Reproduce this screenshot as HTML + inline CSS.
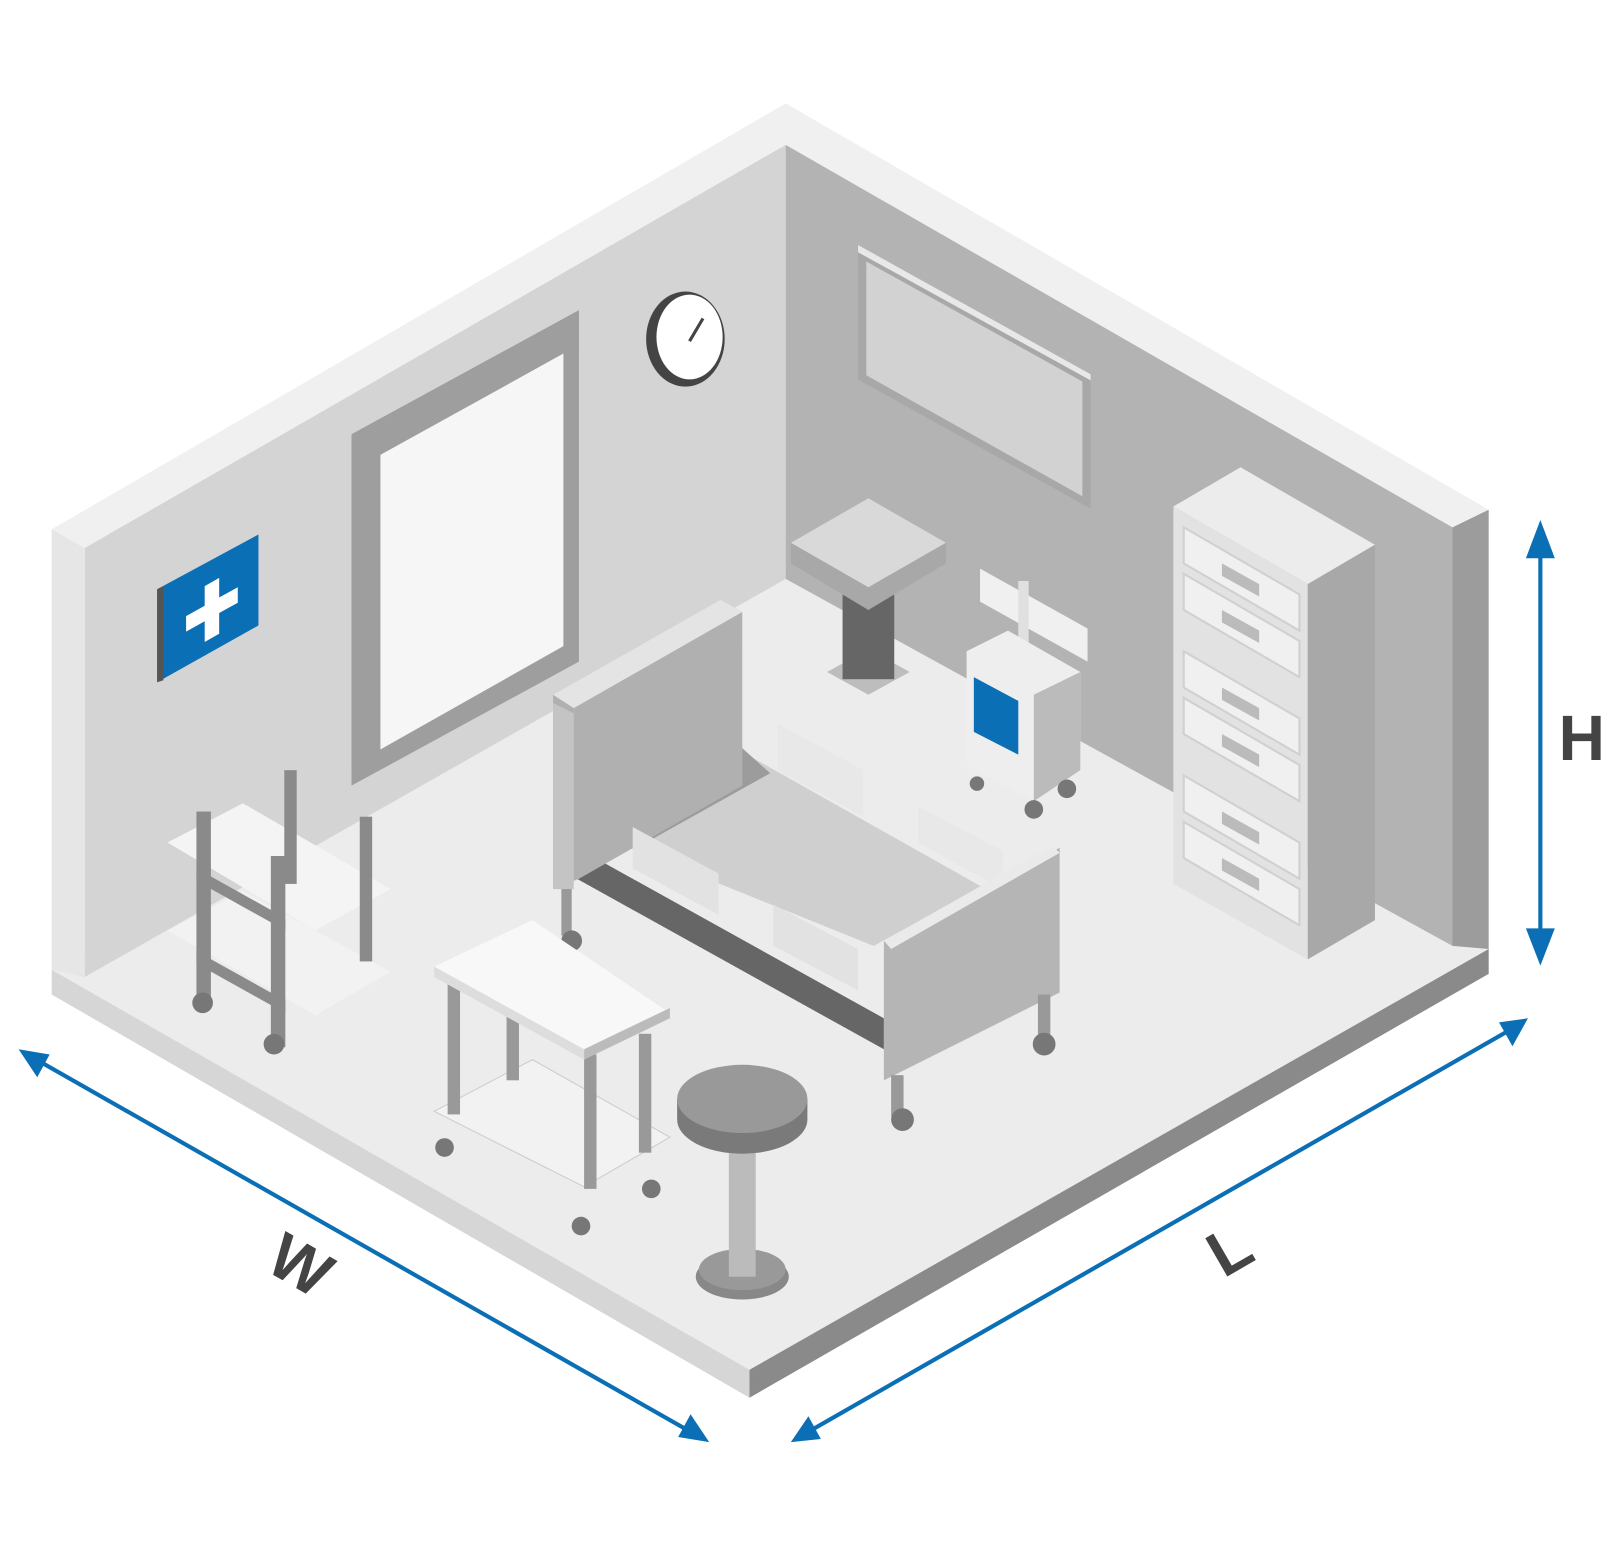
<!DOCTYPE html>
<html><head><meta charset="utf-8"><style>html,body{margin:0;padding:0;background:#fff}svg{display:block}</style></head><body>
<svg width="1621" height="1560" viewBox="0 0 1568 1509" preserveAspectRatio="none" xmlns="http://www.w3.org/2000/svg">
<defs><marker id="a" markerWidth="10" markerHeight="10" refX="8" refY="5" orient="auto" markerUnits="userSpaceOnUse"><path d="M0,0 L0,0"/></marker></defs>
<!-- floor & slab -->
<polygon points="50,938 760,555 1440,918 725,1325" fill="#ececec"/>
<polygon points="50,938 725,1325 725,1352 50,962" fill="#d6d6d6"/>
<polygon points="725,1325 1440,918 1440,942 725,1352" fill="#8a8a8a"/>
<!-- walls -->
<polygon points="82,530 760,140 760,560 82,945" fill="#d4d4d4"/>
<polygon points="760,140 1405,510 1405,915 760,560" fill="#b3b3b3"/>
<polygon points="50,512 82,530 82,945 50,938" fill="#e6e6e6"/>
<polygon points="1405,510 1440,493 1440,918 1405,915" fill="#9c9c9c"/>
<polygon points="50,512 760,100 1440,493 1405,510 760,140 82,530" fill="#f0f0f0"/>
<!-- sign -->
<polygon points="152,570 250,517 250,605 152,660" fill="#0a6fb5"/>
<polygon points="152,570 158,567 158,658 152,660" fill="#555"/>
<path d="M198,567 L212,559 L212,578 L230,568 L230,583 L212,593 L212,613 L198,621 L198,601 L180,611 L180,596 L198,586 Z" fill="#fff"/>
<!-- door -->
<polygon points="340,420 560,300 560,640 340,760" fill="#9e9e9e"/>
<polygon points="368,440 545,342 545,625 368,725" fill="#f6f6f6"/>
<!-- clock -->
<ellipse cx="663" cy="328" rx="38" ry="46" fill="#444"/>
<ellipse cx="667" cy="326" rx="32" ry="41" fill="#fff"/>
<line x1="667" y1="330" x2="680" y2="308" stroke="#444" stroke-width="3"/>
<!-- picture -->
<polygon points="830,237 1055,362 1055,492 830,367" fill="#a8a8a8"/>
<polygon points="838,253 1047,369 1047,480 838,363" fill="#d2d2d2"/>
<polygon points="830,237 1055,362 1055,368 830,244" fill="#e8e8e8"/>
<!-- cabinet -->
<polygon points="1135,490 1200,452 1330,527 1265,565" fill="#ececec"/>
<polygon points="1135,490 1265,565 1265,928 1135,855" fill="#e2e2e2"/>
<polygon points="1265,565 1330,527 1330,890 1265,928" fill="#a8a8a8"/>
<g fill="#f0f0f0" stroke="#d0d0d0" stroke-width="2">
<polygon points="1145,510 1257,575 1257,610 1145,545"/><polygon points="1145,555 1257,620 1257,655 1145,590"/>
<polygon points="1145,630 1257,695 1257,730 1145,665"/><polygon points="1145,675 1257,740 1257,775 1145,710"/>
<polygon points="1145,750 1257,815 1257,850 1145,785"/><polygon points="1145,795 1257,860 1257,895 1145,830"/>
</g>
<g fill="#bbb"><polygon points="1182,545 1218,565 1218,577 1182,557"/><polygon points="1182,590 1218,610 1218,622 1182,602"/><polygon points="1182,665 1218,685 1218,697 1182,677"/><polygon points="1182,710 1218,730 1218,742 1182,722"/><polygon points="1182,785 1218,805 1218,817 1182,797"/><polygon points="1182,830 1218,850 1218,862 1182,842"/></g>
<!-- pedestal table -->
<polygon points="800,650 840,628 880,650 840,672" fill="#bdbdbd"/>
<rect x="815" y="575" width="50" height="82" fill="#666"/>
<polygon points="765,545 765,525 840,482 915,525 915,545 840,590" fill="#a8a8a8"/>
<polygon points="765,525 840,482 915,525 840,568" fill="#d9d9d9"/>
<!-- monitor cart -->
<polygon points="948,550 1052,608 1052,640 948,582" fill="#f0f0f0"/>
<rect x="985" y="562" width="10" height="70" fill="#e0e0e0"/>
<polygon points="935,630 975,610 1045,650 1045,745 1000,775 935,740" fill="#eee"/>
<polygon points="1000,672 1045,650 1045,745 1000,775" fill="#bbb"/>
<polygon points="942,655 985,678 985,730 942,708" fill="#0a6fb5"/>
<circle cx="945" cy="758" r="7" fill="#777"/><circle cx="1000" cy="783" r="9" fill="#777"/><circle cx="1032" cy="763" r="9" fill="#777"/>
<!-- bed -->
<polygon points="560,800 705,720 950,858 845,915" fill="#cfcfcf"/>
<polygon points="585,770 695,703 745,748 625,815" fill="#9c9c9c"/>
<polygon points="558,820 855,985 855,1015 558,850" fill="#666"/>
<polygon points="535,672 697,580 718,592 718,760 560,850 535,860" fill="#b0b0b0"/>
<polygon points="535,672 697,580 718,592 555,685" fill="#e4e4e4"/>
<polygon points="535,680 555,690 555,860 535,860" fill="#c4c4c4"/>
<rect x="543" y="860" width="10" height="45" fill="#999"/><circle cx="553" cy="910" r="10" fill="#777"/>
<polygon points="612,800 695,845 695,885 612,840" fill="#e2e2e2"/><polygon points="748,875 830,918 830,958 748,915" fill="#e2e2e2"/>
<polygon points="752,700 835,745 835,790 752,745" fill="#e8e8e8"/><polygon points="888,780 970,823 970,860 888,815" fill="#e8e8e8"/>
<polygon points="855,910 1025,820 1025,960 855,1045" fill="#b5b5b5"/>
<polygon points="855,910 1018,818 1025,825 862,918" fill="#eaeaea"/>
<rect x="862" y="1040" width="12" height="40" fill="#999"/><circle cx="873" cy="1083" r="11" fill="#777"/>
<rect x="1004" y="962" width="12" height="40" fill="#999"/><circle cx="1010" cy="1010" r="11" fill="#777"/>
<!-- left trolley -->
<polygon points="162,900 235,862 378,940 305,982" fill="#f2f2f2"/>
<polygon points="162,815 235,777 378,860 305,900" fill="#f4f4f4"/>
<rect x="275" y="745" width="12" height="110" fill="#8a8a8a"/><rect x="348" y="790" width="12" height="140" fill="#8a8a8a"/>
<rect x="190" y="785" width="14" height="185" fill="#8a8a8a"/><rect x="262" y="828" width="14" height="185" fill="#8a8a8a"/>
<polygon points="190,840 276,888 276,900 190,852" fill="#8a8a8a"/><polygon points="190,920 276,968 276,980 190,932" fill="#8a8a8a"/>
<circle cx="196" cy="970" r="10" fill="#777"/><circle cx="265" cy="1010" r="10" fill="#777"/>
<!-- front table -->
<polygon points="420,1075 515,1025 648,1100 565,1148" fill="#f2f2f2" stroke="#ccc"/>
<rect x="433" y="948" width="12" height="130" fill="#999"/><rect x="490" y="915" width="12" height="130" fill="#999"/>
<rect x="565" y="1020" width="12" height="130" fill="#999"/><rect x="618" y="1000" width="12" height="115" fill="#999"/>
<polygon points="420,935 515,890 648,980 565,1025" fill="#f8f8f8"/>
<polygon points="420,935 565,1015 565,1025 420,945" fill="#ddd"/><polygon points="565,1015 648,975 648,985 565,1025" fill="#bbb"/>
<circle cx="430" cy="1110" r="9" fill="#777"/><circle cx="562" cy="1186" r="9" fill="#777"/><circle cx="630" cy="1150" r="9" fill="#777"/>
<!-- stool -->
<ellipse cx="718" cy="1235" rx="45" ry="22" fill="#888"/><ellipse cx="718" cy="1228" rx="42" ry="20" fill="#999"/>
<rect x="705" y="1085" width="26" height="150" fill="#bbb"/>
<path d="M655,1063 L655,1083 A63,33 0 0,0 781,1083 L781,1063 Z" fill="#7a7a7a"/>
<ellipse cx="718" cy="1063" rx="63" ry="33" fill="#999"/>
<!-- arrows -->
<g stroke="#0a6fb5" stroke-width="4" fill="#0a6fb5">
<line x1="30" y1="1022" x2="675" y2="1389"/>
<line x1="775" y1="1389" x2="1468" y2="992"/>
<line x1="1490" y1="520" x2="1490" y2="918"/>
</g>
<g fill="#0a6fb5">
<polygon points="18,1015 48,1020 36,1042"/><polygon points="686,1395 656,1390 668,1368"/>
<polygon points="765,1395 782,1370 794,1392"/><polygon points="1478,985 1463,1012 1450,989"/>
<polygon points="1490,503 1476,540 1504,540"/><polygon points="1490,934 1476,898 1504,898"/>
</g>
<g font-family="Liberation Sans, sans-serif" font-weight="bold" font-size="62" fill="#444" text-anchor="middle">
<text x="290" y="1245" transform="rotate(30 290 1225)">W</text>
<text x="1190" y="1230" transform="rotate(-30 1190 1210)">L</text>
<text x="1530" y="735">H</text>
</g>
</svg>
</body></html>
